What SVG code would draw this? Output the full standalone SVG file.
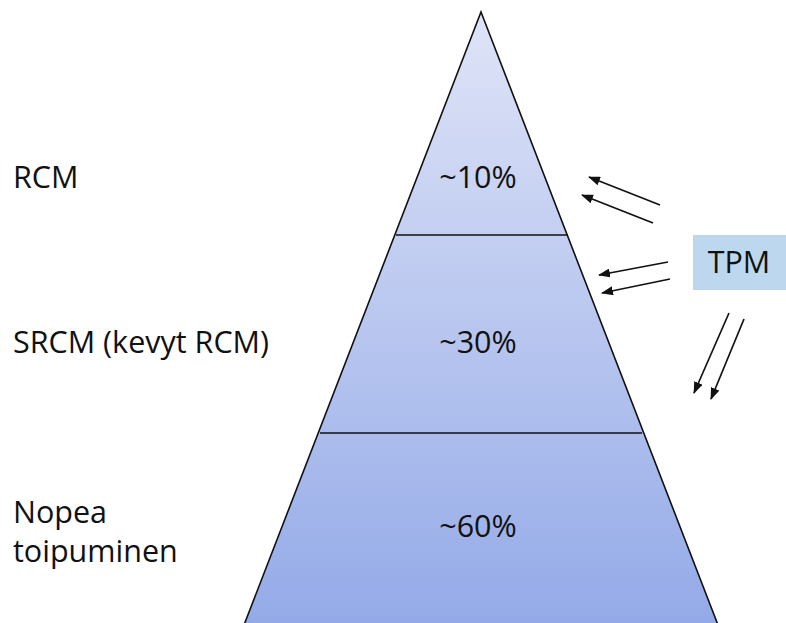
<svg xmlns="http://www.w3.org/2000/svg" width="786" height="623" viewBox="0 0 786 623">
<style>
text{font-family:"Open Sans","Liberation Sans",sans-serif;font-size:30.5px;fill:#111}
.mid{text-anchor:middle}
.div{stroke:#111;stroke-width:1.6;fill:none}
.arr{stroke:#111;stroke-width:1.7;fill:none;marker-end:url(#ah)}
</style>
<defs>
<linearGradient id="g" x1="0" y1="12" x2="0" y2="623" gradientUnits="userSpaceOnUse">
<stop offset="0" stop-color="#dfe4f7"/>
<stop offset="1" stop-color="#94aae8"/>
</linearGradient>
<marker id="ah" viewBox="0 0 12 9" refX="11" refY="4.5" markerWidth="12" markerHeight="9" markerUnits="userSpaceOnUse" orient="auto">
<path d="M0,0 L12,4.5 L0,9 Z" fill="#111"/>
</marker>
</defs>
<g id="pyramid">
<polygon points="481,12 718,625 244,625" fill="url(#g)" stroke="#111" stroke-width="1.6"/>
<line class="div" x1="396" y1="235" x2="568" y2="235"/>
<line class="div" x1="320" y1="433" x2="642" y2="433"/>
</g>
<g id="level-rcm">
<text x="13" y="188">RCM</text>
<text class="mid" x="478" y="188">~10%</text>
</g>
<g id="level-srcm">
<text x="13" y="353">SRCM (kevyt RCM)</text>
<text class="mid" x="478" y="353">~30%</text>
</g>
<g id="level-nopea">
<text x="13" y="523">Nopea</text>
<text x="13" y="562">toipuminen</text>
<text class="mid" x="478" y="537">~60%</text>
</g>
<g id="tpm">
<rect x="693" y="235" width="93" height="55" fill="#bdd7ee"/>
<text class="mid" x="739" y="273">TPM</text>
</g>
<g id="connectors">
<line class="arr" x1="660" y1="205" x2="589" y2="177"/>
<line class="arr" x1="653" y1="223" x2="582" y2="195"/>
<line class="arr" x1="668" y1="262" x2="599" y2="275"/>
<line class="arr" x1="670" y1="279" x2="602" y2="293"/>
<line class="arr" x1="729" y1="313" x2="694" y2="393"/>
<line class="arr" x1="744" y1="319" x2="711" y2="399"/>
</g>
</svg>
